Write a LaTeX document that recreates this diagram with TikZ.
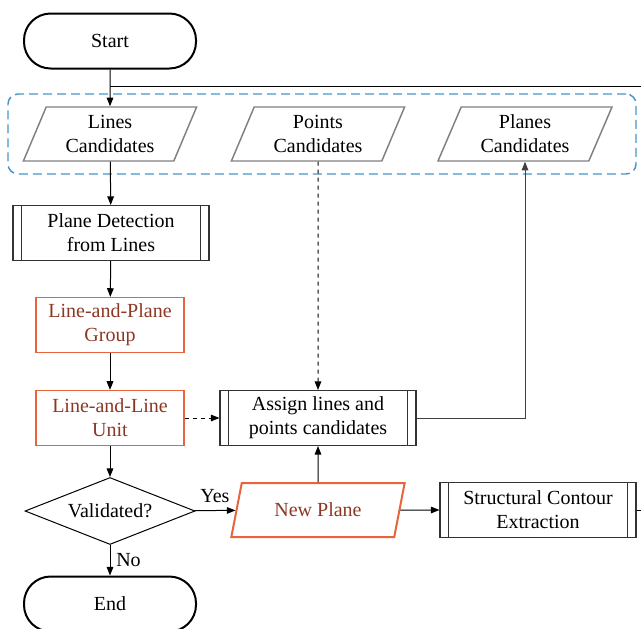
\documentclass[tikz,border=0pt]{standalone}
\usepackage{fontspec}
\setmainfont{Liberation Serif}
\usetikzlibrary{shapes.geometric,arrows.meta}
\definecolor{orng}{RGB}{232,100,60}
\definecolor{brwn}{RGB}{140,55,35}
\definecolor{dblue}{RGB}{70,150,200}
\definecolor{dgray}{RGB}{128,128,128}
\begin{document}
\begin{tikzpicture}[x=0.75pt,y=-0.75pt,
  font=\fontsize{15}{18}\selectfont,
  every node/.style={align=center},
  term/.style={draw, line width=1.5pt, rounded corners=20pt, minimum width=129pt, minimum height=41.25pt, inner sep=0pt},
  data/.style={trapezium, trapezium left angle=67, trapezium right angle=113, trapezium stretches=true,
    draw=dgray, line width=1.1pt, minimum width=130.5pt, minimum height=40.5pt, inner sep=0pt},
  proc/.style={draw=black!80, line width=0.8pt, minimum width=147pt, minimum height=41.25pt, inner sep=0pt,
    path picture={\draw[line width=0.8pt,black!80]
      ([xshift=6.5pt]path picture bounding box.north west) -- ([xshift=6.5pt]path picture bounding box.south west)
      ([xshift=-6.5pt]path picture bounding box.north east) -- ([xshift=-6.5pt]path picture bounding box.south east);}},
  obox/.style={draw=orng, line width=0.9pt, text=brwn, minimum width=111pt, minimum height=41.25pt, inner sep=0pt},
  dec/.style={diamond, draw, line width=0.75pt, aspect=2.54, minimum width=127.5pt, minimum height=50.25pt, inner sep=0pt},
  arr/.style={line width=0.75pt, -{Triangle[length=6.5pt,width=5pt]}},
  ln/.style={line width=0.75pt},
  grp/.style={draw=dblue, line width=1.1pt, dash pattern=on 6.75pt off 3.75pt, rounded corners=7.5pt,
    minimum width=471pt, minimum height=60pt, inner sep=0pt}
]
\useasboundingbox (0,0) rectangle (641,628);

\node[grp] (group) at (322,134) {};

\node[term] (start) at (110,41) {Start};
\node[data] (lines) at (110,134) {Lines\\Candidates};
\node[data] (points) at (318,134) {Points\\Candidates};
\node[data] (planes) at (525,134) {Planes\\Candidates};
\node[proc] (pdet) at (111,233) {Plane Detection\\from Lines};
\node[obox] (lpg) at (110,325) {Line-and-Plane\\Group};
\node[obox] (llu) at (110,418) {Line-and-Line\\Unit};
\node[proc] (assign) at (318,418) {Assign lines and\\points candidates};
\node[dec] (valid) at (110,511) {Validated?};
\node[data, draw=orng, line width=1.5pt, text=brwn] (newp) at (318,510) {New Plane};
\node[proc] (sce) at (538,510) {Structural Contour\\Extraction};
\node[term] (end) at (110,604) {End};

\coordinate (br) at (110,86);
\coordinate (rt) at (641,86);
\coordinate (rt2) at (641,510);

\draw[arr] (start) -- (lines);
\draw[ln] (br) -- (rt);
\draw[arr] (lines) -- (pdet);
\draw[arr] (pdet) -- (lpg);
\draw[arr] (lpg) -- (llu);
\draw[arr, dashed] (llu) -- (assign);
\draw[arr, dashed] (points) -- (assign);
\draw[arr, draw=black!75] (assign.east) -| (planes.south);
\draw[arr] (llu) -- (valid);
\draw[arr] (valid) -- node[above=2pt] {Yes} (newp);
\draw[arr] (newp) -- (assign);
\draw[arr] (newp) -- (sce);
\draw[ln] (sce.east) -- (rt2);
\draw[arr] (valid) -- node[right=1pt] {No} (end);
\end{tikzpicture}
\end{document}
